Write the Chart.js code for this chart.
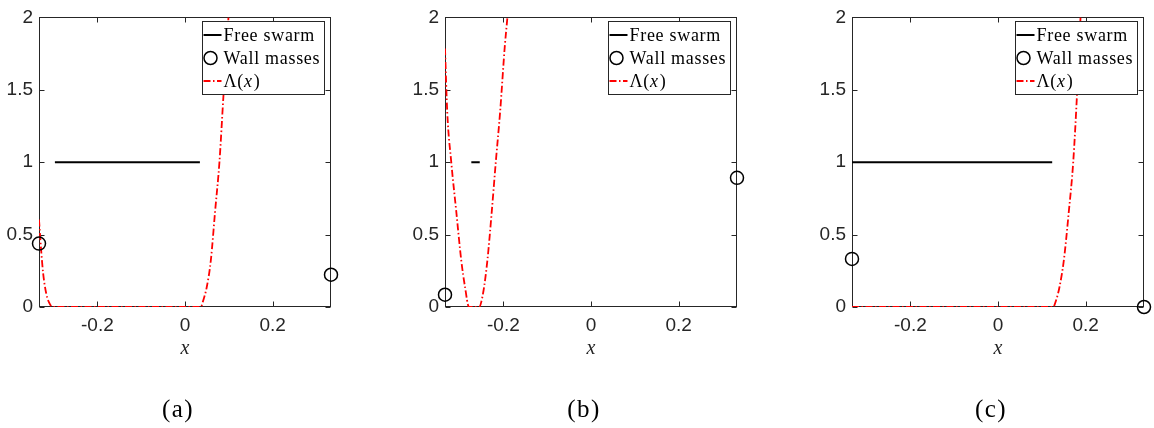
<!DOCTYPE html>
<html>
<head>
<meta charset="utf-8">
<script src="https://cdn.jsdelivr.net/npm/chart.js@4.4.1/dist/chart.umd.min.js"></script>
<style>
  body { margin: 0; background: #fff; width: 1154px; height: 428px; position: relative; overflow: hidden; }
  .painel { position: absolute; top: 0; width: 341px; height: 428px; }
</style>
</head>
<body>
<div class="painel" style="left:0px"><canvas id="graficoA" width="341" height="428"></canvas></div>
<div class="painel" style="left:406px"><canvas id="graficoB" width="341" height="428"></canvas></div>
<div class="painel" style="left:813px"><canvas id="graficoC" width="341" height="428"></canvas></div>

<script>
// ==================== DADOS ====================
const xMin = -0.3333, xMax = 0.3333;
const yMin = 0, yMax = 2;
const xTicks = [-0.2, 0, 0.2];
const yTicks = [0, 0.5, 1, 1.5, 2];
const nomesSeries = ['Free swarm', 'Wall masses', 'Λ(x)'];
const rotulosPaineis = ['(a)', '(b)', '(c)'];
const nomeEixoX = 'x';

// painel (a)
const enxameA = [[-0.297, 1], [0.034, 1]];
const paredesA = [[-0.3333, 0.438], [0.3333, 0.223]];
const lambdaA = [
  [-0.3333, 0.604], [-0.3283, 0.388], [-0.3237, 0.229], [-0.3168, 0.093],
  [-0.3093, 0.025], [-0.3017, 0], [0.036, 0], [0.0419, 0.048],
  [0.0497, 0.138], [0.0589, 0.32], [0.0687, 0.66], [0.0786, 1.0],
  [0.0877, 1.455], [0.0992, 2.0]
];

// painel (b)
const enxameB = [[-0.2732, 1], [-0.254, 1]];
const paredesB = [[-0.3333, 0.085], [0.3333, 0.892]];
const lambdaB = [
  [-0.3333, 1.785], [-0.3281, 1.342], [-0.319, 1.0], [-0.3076, 0.66],
  [-0.2961, 0.32], [-0.2876, 0.138], [-0.2785, 0], [-0.2556, 0],
  [-0.2465, 0.093], [-0.2366, 0.32], [-0.2265, 0.66], [-0.2174, 1.0],
  [-0.2076, 1.342], [-0.1968, 1.80], [-0.1908, 2.0]
];

// painel (c)
const enxameC = [[-0.3333, 1], [0.1237, 1]];
const paredesC = [[-0.3333, 0.332], [0.3333, 0]];
const lambdaC = [
  [-0.3333, 0], [0.126, 0], [0.1328, 0.048], [0.1404, 0.138],
  [0.1502, 0.32], [0.1617, 0.66], [0.1717, 1.0], [0.1809, 1.5],
  [0.1884, 2.0]
];

// ==================== ESTILO ====================
const corEixo = '#262626';
const fonteTicks = '"Liberation Sans", Arial, sans-serif';
const fonteSerif = '"Liberation Serif", "Times New Roman", serif';

const pontos = arr => arr.map(([x, y]) => ({ x, y }));

// caixa do eixo com marcas para dentro nos quatro lados
const caixaEixo = {
  id: 'caixaEixo',
  beforeDatasetsDraw(chart) {
    const { ctx, chartArea: a, scales } = chart;
    const L = Math.round(a.left) + 0.5, R = Math.round(a.right) - 0.5;
    const T = Math.round(a.top) + 0.5, B = Math.round(a.bottom) - 0.5;
    ctx.save();
    ctx.strokeStyle = corEixo;
    ctx.lineWidth = 1;
    ctx.strokeRect(L, T, R - L, B - T);
    ctx.beginPath();
    xTicks.forEach(v => {
      const px = Math.round(scales.x.getPixelForValue(v)) + 0.5;
      ctx.moveTo(px, B); ctx.lineTo(px, B - 5);
      ctx.moveTo(px, T); ctx.lineTo(px, T + 5);
    });
    yTicks.forEach(v => {
      const py = Math.round(scales.y.getPixelForValue(v)) + 0.5;
      ctx.moveTo(L, py); ctx.lineTo(L + 5, py);
      ctx.moveTo(R, py); ctx.lineTo(R - 5, py);
    });
    ctx.stroke();
    ctx.restore();
  }
};

// escreve um rótulo deixando a variável entre parênteses em itálico
function escreverRotulo(ctx, texto, x, y, tamanho) {
  const m = texto.match(/^(.*\()(\w)(\).*)$/);
  const partes = m ? [[m[1], ''], [m[2], 'italic '], [m[3], '']] : [[texto, '']];
  partes.forEach(([t, estilo]) => {
    ctx.font = estilo + tamanho + 'px ' + fonteSerif;
    ctx.fillText(t, x, y);
    x += ctx.measureText(t).width + (estilo ? 1 : 0);
  });
  return x;
}

// legenda em caixa no canto superior direito
const legendaCaixa = {
  id: 'legendaCaixa',
  afterDatasetsDraw(chart) {
    const { ctx, chartArea: a } = chart;
    const tamanho = 18;
    ctx.save();
    ctx.letterSpacing = '0.7px';
    ctx.font = tamanho + 'px ' + fonteSerif;
    const larguraTexto = Math.max(...chart.data.datasets.map(d => ctx.measureText(d.label).width));
    const largura = Math.round(21 + larguraTexto + 4);
    const altura = 73;
    const dir = Math.round(a.right) - 6.5;
    const esq = dir - largura;
    const topo = Math.round(a.top) + 4.5;
    ctx.fillStyle = '#fff';
    ctx.fillRect(esq, topo, largura, altura);
    ctx.strokeStyle = corEixo;
    ctx.lineWidth = 1;
    ctx.strokeRect(esq, topo, largura, altura);

    chart.data.datasets.forEach((d, i) => {
      const y = topo + 13.5 + i * 23;
      if (d.showLine) {
        ctx.strokeStyle = d.borderColor;
        ctx.lineWidth = d.borderWidth;
        ctx.setLineDash(d.borderDash || []);
        ctx.beginPath();
        ctx.moveTo(esq + 1, y);
        ctx.lineTo(esq + 19, y);
        ctx.stroke();
        ctx.setLineDash([]);
      } else {
        ctx.strokeStyle = d.pointBorderColor;
        ctx.lineWidth = d.pointBorderWidth;
        ctx.beginPath();
        ctx.arc(esq + 8, y, d.pointRadius, 0, Math.PI * 2);
        ctx.stroke();
      }
      ctx.fillStyle = '#000';
      ctx.textBaseline = 'middle';
      ctx.textAlign = 'left';
      escreverRotulo(ctx, d.label, esq + 21, y + 1, tamanho);
    });
    ctx.restore();
  }
};

// nome do eixo x e letra do painel
const legendas = {
  id: 'legendas',
  afterDraw(chart, args, opts) {
    const { ctx, chartArea: a } = chart;
    const cx = (a.left + a.right) / 2;
    ctx.save();
    ctx.textAlign = 'center';
    ctx.textBaseline = 'alphabetic';
    ctx.fillStyle = corEixo;
    ctx.font = 'italic 20px ' + fonteSerif;
    ctx.fillText(opts.eixo, cx, a.bottom + 47);
    ctx.fillStyle = '#000';
    ctx.textBaseline = 'middle';
    ctx.letterSpacing = '1.5px';
    ctx.font = '25px ' + fonteSerif;
    ctx.fillText(opts.rotulo, cx - 7, a.bottom + 103);
    ctx.restore();
  }
};

function criarGrafico(idCanvas, enxame, paredes, lambda, rotulo) {
  const ctx = document.getElementById(idCanvas).getContext('2d');
  return new Chart(ctx, {
    type: 'scatter',
    data: {
      datasets: [{
        label: nomesSeries[0],
        data: pontos(enxame),
        showLine: true,
        borderColor: '#000',
        borderWidth: 2,
        pointRadius: 0
      }, {
        label: nomesSeries[1],
        data: pontos(paredes),
        showLine: false,
        pointStyle: 'circle',
        pointRadius: 6.5,
        pointBorderWidth: 1.5,
        pointBorderColor: '#000',
        pointBackgroundColor: 'rgba(0,0,0,0)',
        clip: false
      }, {
        label: nomesSeries[2],
        data: pontos(lambda),
        showLine: true,
        borderColor: '#ff0000',
        borderWidth: 1.8,
        borderDash: [7, 2.5, 1.5, 2.5],
        cubicInterpolationMode: 'monotone',
        pointRadius: 0
      }]
    },
    options: {
      responsive: false,
      animation: false,
      events: [],
      layout: { padding: { top: 13, right: 10, left: 0, bottom: 0 } },
      scales: {
        x: {
          type: 'linear',
          min: xMin, max: xMax,
          afterBuildTicks: eixo => { eixo.ticks = xTicks.map(v => ({ value: v })); },
          afterFit: eixo => { eixo.height = 121; },
          grid: { display: false, drawTicks: false },
          border: { display: false },
          ticks: {
            padding: 7,
            color: corEixo,
            font: { family: fonteTicks, size: 19 },
            callback: v => (v === 0 ? '0' : v.toFixed(1))
          }
        },
        y: {
          type: 'linear',
          min: yMin, max: yMax,
          afterBuildTicks: eixo => { eixo.ticks = yTicks.map(v => ({ value: v })); },
          afterFit: eixo => { eixo.width = 39; },
          grid: { display: false, drawTicks: false },
          border: { display: false },
          ticks: {
            padding: 6,
            color: corEixo,
            font: { family: fonteTicks, size: 19 },
            callback: v => String(v)
          }
        }
      },
      plugins: {
        legend: { display: false },
        tooltip: { enabled: false },
        legendas: { eixo: nomeEixoX, rotulo: rotulo }
      }
    },
    plugins: [caixaEixo, legendaCaixa, legendas]
  });
}

criarGrafico('graficoA', enxameA, paredesA, lambdaA, rotulosPaineis[0]);
criarGrafico('graficoB', enxameB, paredesB, lambdaB, rotulosPaineis[1]);
criarGrafico('graficoC', enxameC, paredesC, lambdaC, rotulosPaineis[2]);
</script>
</body>
</html>
